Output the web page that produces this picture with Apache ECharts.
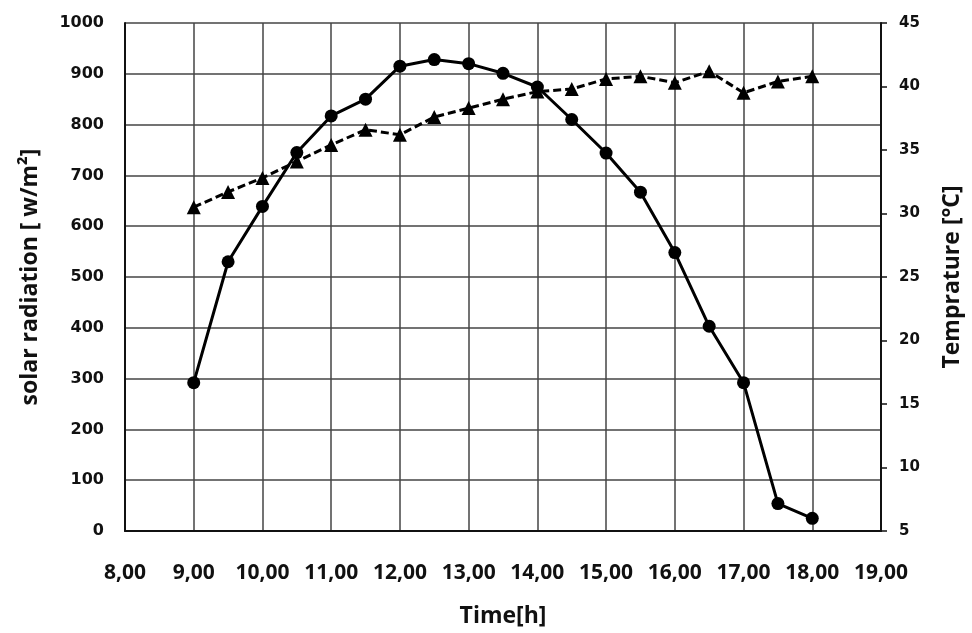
<!DOCTYPE html>
<html>
<head>
<meta charset="utf-8">
<script src="https://cdn.jsdelivr.net/npm/echarts@6/dist/echarts.min.js"></script>
<style>
html,body{margin:0;padding:0;background:#fff;}
#chart{width:972px;height:633px;}
</style>
</head>
<body>
<div id="chart"></div>
<script>
const times = [9, 9.5, 10, 10.5, 11, 11.5, 12, 12.5, 13, 13.5, 14, 14.5, 15, 15.5, 16, 16.5, 17, 17.5, 18];
const radiation = [292, 530, 639, 745, 817, 850, 915, 928, 920, 901, 874, 810, 744, 667, 548, 403, 292, 54, 25];
const temperature = [30.5, 31.7, 32.8, 34.1, 35.4, 36.6, 36.2, 37.6, 38.3, 39.0, 39.6, 39.8, 40.6, 40.8, 40.3, 41.2, 39.5, 40.4, 40.8];

const xTitle = 'Time[h]';
const yLeftTitle = 'solar radiation [ w/m²]';
const yRightTitle = 'Temprature [°C]';

const radPairs = times.map((t, i) => [t, radiation[i]]);
const tempPairs = times.map((t, i) => [t, temperature[i]]);

const chart = echarts.init(document.getElementById('chart'), null, {renderer: 'canvas'});
const titleFont = {fontFamily: 'Open Sans', fontWeight: 'bold', fontSize: 23, color: '#111'};
chart.setOption({
  animation: false,
  backgroundColor: '#fff',
  grid: {left: 125, right: 87, top: 23, bottom: 100, containLabel: false},
  xAxis: {
    type: 'value', min: 8, max: 19, interval: 1,
    name: xTitle, nameLocation: 'middle', nameGap: 74,
    nameTextStyle: titleFont,
    axisLine: {show: true, lineStyle: {color: '#111', width: 2}},
    axisTick: {show: false},
    axisLabel: {
      margin: 32, fontFamily: 'Open Sans', fontWeight: 'bold', fontSize: 21, color: '#111',
      formatter: v => v.toFixed(2).replace('.', ',')
    },
    splitLine: {show: true, lineStyle: {color: '#444', width: 1.5}}
  },
  yAxis: [
    {
      type: 'value', min: 0, max: 1000, interval: 100,
      name: yLeftTitle, nameLocation: 'middle', nameGap: 83, nameRotate: 90,
      nameTextStyle: titleFont,
      axisLine: {show: true, lineStyle: {color: '#111', width: 2}},
      axisTick: {show: false},
      axisLabel: {margin: 21, fontFamily: 'DejaVu Sans', fontWeight: 'bold', fontSize: 16, color: '#111',
        formatter: v => String(v)},
      splitLine: {show: true, lineStyle: {color: '#444', width: 1.5}}
    },
    {
      type: 'value', min: 5, max: 45, interval: 5, position: 'right',
      name: yRightTitle, nameLocation: 'middle', nameGap: 60, nameRotate: 90,
      nameTextStyle: titleFont,
      axisLine: {show: true, lineStyle: {color: '#111', width: 2}},
      axisTick: {show: true, inside: false, length: 6, lineStyle: {color: '#111', width: 1.5}},
      axisLabel: {margin: 18, fontFamily: 'DejaVu Sans', fontWeight: 'bold', fontSize: 15, color: '#111',
        formatter: v => String(v)},
      splitLine: {show: false}
    }
  ],
  series: [
    {
      name: 'solar radiation', type: 'line', yAxisIndex: 0, data: radPairs,
      symbol: 'circle', symbolSize: 13,
      lineStyle: {color: '#000', width: 3},
      itemStyle: {color: '#000'},
      z: 3
    },
    {
      name: 'temperature', type: 'line', yAxisIndex: 1, data: tempPairs,
      symbol: 'triangle', symbolSize: 14,
      lineStyle: {color: '#000', width: 3, type: [8, 4]},
      itemStyle: {color: '#000'},
      z: 4
    }
  ]
});
</script>
</body>
</html>
